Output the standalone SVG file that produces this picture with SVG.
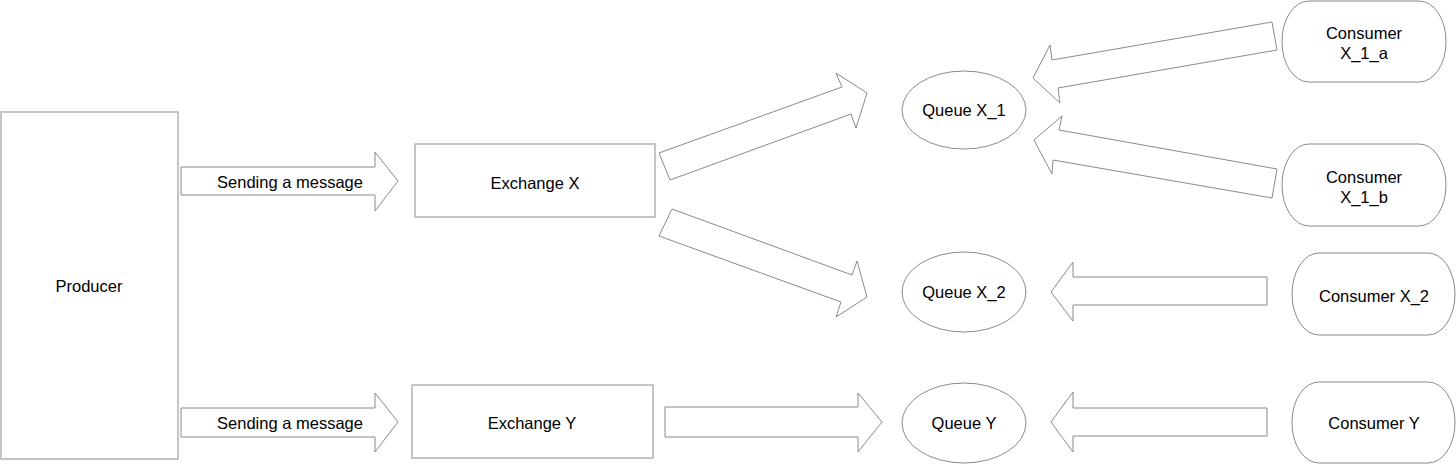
<svg xmlns="http://www.w3.org/2000/svg" width="1456" height="468" viewBox="0 0 1456 468">
<style>
text{font-family:"Liberation Sans",Arial,Helvetica,sans-serif;font-size:16.5px;fill:#000;text-anchor:middle;dominant-baseline:central}
.box{fill:#fff;stroke:#b3b3b3;stroke-width:1.5}
.ell{fill:#fff;stroke:#8a8a8a;stroke-width:1}
.cons{fill:#fff;stroke:#8a8a8a;stroke-width:1}
.arr{fill:#fff;stroke:#8a8a8a;stroke-width:1;stroke-linejoin:miter}
</style>
<rect width="1456" height="468" fill="#fff"/>
<g id="producer"><rect class="box" x="1" y="112" width="177" height="347"/><text x="89" y="286">Producer</text></g>
<g id="exchange-x"><rect class="box" x="415" y="144" width="240" height="73"/><text x="535" y="183">Exchange X</text></g>
<g id="exchange-y"><rect class="box" x="412" y="385" width="241" height="73"/><text x="532" y="423">Exchange Y</text></g>
<g id="queue-x1"><ellipse class="ell" cx="964" cy="110" rx="62" ry="39"/><text x="964" y="110">Queue X_1</text></g>
<g id="queue-x2"><ellipse class="ell" cx="964" cy="292" rx="62" ry="40"/><text x="964" y="292">Queue X_2</text></g>
<g id="queue-y"><ellipse class="ell" cx="964" cy="423" rx="62" ry="40"/><text x="964" y="423">Queue Y</text></g>
<g id="consumer-x1a"><rect class="cons" x="1282" y="1" width="164" height="81" rx="27" ry="40"/><text x="1364" y="33">Consumer</text><text x="1364" y="53">X_1_a</text></g>
<g id="consumer-x1b"><rect class="cons" x="1282" y="144" width="164" height="82" rx="27" ry="41"/><text x="1364" y="177">Consumer</text><text x="1364" y="197">X_1_b</text></g>
<g id="consumer-x2"><rect class="cons" x="1292" y="253" width="163" height="82" rx="27" ry="41"/><text x="1374" y="296">Consumer X_2</text></g>
<g id="consumer-y"><rect class="cons" x="1292" y="382" width="163" height="81" rx="27" ry="40"/><text x="1374" y="423">Consumer Y</text></g>
<g id="connectors">
<g id="send-1"><polygon class="arr" points="181,167 375,167 375,152 398,181 375,211 375,195 181,195"/><text x="290" y="182">Sending a message</text></g>
<g id="send-2"><polygon class="arr" points="181,408 375,408 375,393 398,422 375,452 375,437 181,437"/><text x="290" y="423">Sending a message</text></g>
<polygon class="arr" points="659,153 842,87 836,73 867,93 856,128 851,114 670,180"/>
<polygon class="arr" points="672,209 852,275 857,261 867,297 836,317 841,302 659,236"/>
<polygon class="arr" points="665,407 858,407 858,393 882,422 858,452 858,437 665,437"/>
<polygon class="arr" points="1272,22 1052,60 1050,45 1033,78 1060,103 1058,88 1277,50"/>
<polygon class="arr" points="1277,169 1059,130 1062,116 1034,140 1052,174 1053,160 1272,198"/>
<polygon class="arr" points="1267,277 1073,277 1073,262 1051,292 1073,321 1073,305 1267,305"/>
<polygon class="arr" points="1267,408 1073,408 1073,392 1051,422 1073,452 1073,436 1267,436"/>
</g>
</svg>
